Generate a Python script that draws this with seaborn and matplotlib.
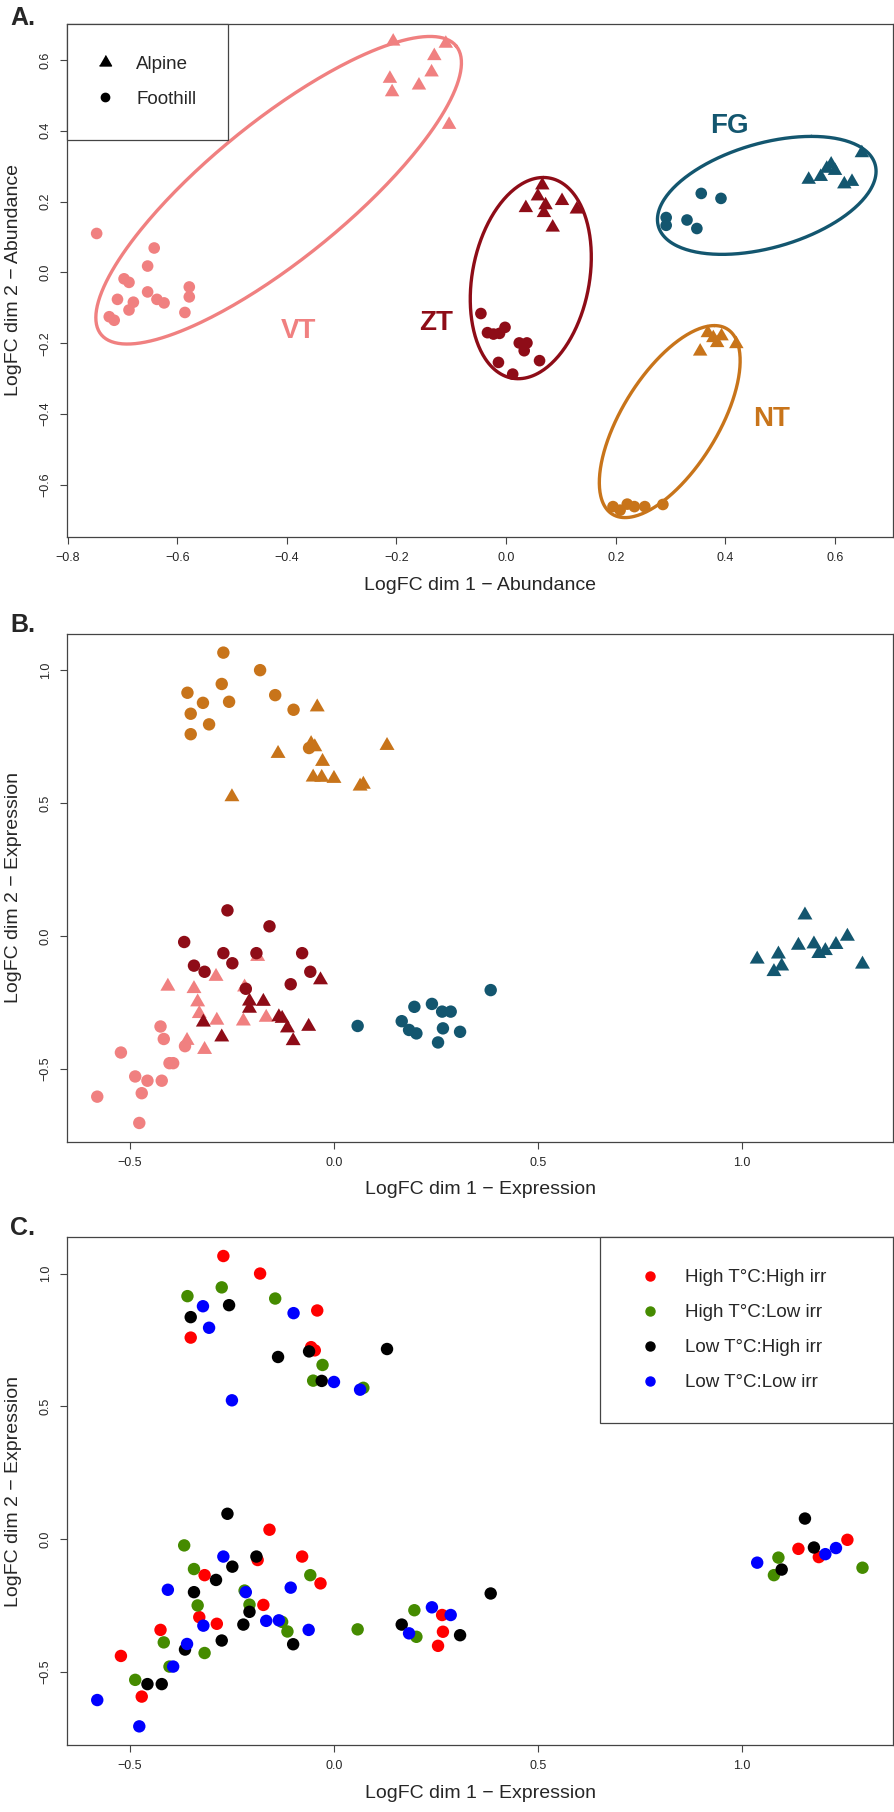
import numpy as np
import pandas as pd
import seaborn as sns
import matplotlib.pyplot as plt
from matplotlib.lines import Line2D

# ---- panel A: abundance, (dim1, dim2) per species and habitat
vt_alpine_abund = [(-0.206, 0.652), (-0.110, 0.646), (-0.131, 0.611), (-0.212, 0.547),
                   (-0.136, 0.565), (-0.159, 0.528), (-0.208, 0.509), (-0.104, 0.417)]
vt_foothill_abund = [(-0.747, 0.110), (-0.642, 0.069), (-0.654, 0.018), (-0.697, -0.018),
                     (-0.688, -0.028), (-0.654, -0.055), (-0.709, -0.076), (-0.680, -0.084),
                     (-0.637, -0.076), (-0.624, -0.086), (-0.578, -0.041), (-0.578, -0.069),
                     (-0.688, -0.106), (-0.586, -0.113), (-0.724, -0.125), (-0.715, -0.135)]
zt_alpine_abund = [(0.066, 0.246), (0.058, 0.215), (0.036, 0.182), (0.102, 0.202),
                   (0.072, 0.190), (0.069, 0.168), (0.129, 0.178), (0.085, 0.127)]
zt_foothill_abund = [(-0.046, -0.116), (-0.034, -0.170), (-0.023, -0.174), (-0.012, -0.172),
                     (-0.002, -0.155), (0.024, -0.199), (0.038, -0.199), (0.033, -0.221),
                     (-0.014, -0.254), (0.061, -0.249), (0.012, -0.287)]
fg_alpine_abund = [(0.552, 0.262), (0.574, 0.270), (0.593, 0.305), (0.600, 0.287),
                   (0.617, 0.249), (0.631, 0.256), (0.649, 0.337), (0.585, 0.293)]
fg_foothill_abund = [(0.356, 0.223), (0.392, 0.209), (0.292, 0.155), (0.292, 0.133),
                     (0.330, 0.148), (0.348, 0.124)]
nt_alpine_abund = [(0.354, -0.223), (0.368, -0.171), (0.378, -0.185), (0.385, -0.199),
                   (0.393, -0.180), (0.420, -0.202)]
nt_foothill_abund = [(0.195, -0.661), (0.208, -0.671), (0.221, -0.654), (0.234, -0.661),
                     (0.253, -0.661), (0.286, -0.655)]

# hull ellipses of panel A: centre, and two conjugate semi-diameters (data units)
hull_species = ['VT', 'ZT', 'FG', 'NT']
hull_center = [(-0.415, 0.232), (0.045, -0.016), (0.4755, 0.2175), (0.2985, -0.421)]
hull_u = [(0.324, 0.407), (0.023, 0.284), (0.0815, 0.1665), (0.0815, 0.271)]
hull_v = [(0.079, -0.151), (0.108, 0.0), (0.182, 0.0), (0.0993, 0.0)]

# ---- panels B and C: expression, (dim1, dim2, treatment)
# HH = High T°C:High irr, HL = High T°C:Low irr, LH = Low T°C:High irr, LL = Low T°C:Low irr
fg_foothill_expr = [(0.058, -0.339, 'HL'), (0.166, -0.321, 'LH'), (0.184, -0.354, 'LL'),
                    (0.197, -0.267, 'HL'), (0.202, -0.367, 'HL'), (0.240, -0.256, 'LL'),
                    (0.265, -0.285, 'HH'), (0.286, -0.285, 'LL'), (0.267, -0.348, 'HH'),
                    (0.255, -0.401, 'HH'), (0.309, -0.361, 'LH'), (0.384, -0.204, 'LH')]
fg_alpine_expr = [(1.154, 0.078, 'LH'), (1.138, -0.036, 'HH'), (1.176, -0.031, 'LH'),
                  (1.188, -0.067, 'HH'), (1.204, -0.056, 'LL'), (1.230, -0.033, 'LL'),
                  (1.258, -0.002, 'HH'), (1.037, -0.088, 'LL'), (1.089, -0.069, 'HL'),
                  (1.078, -0.135, 'HL'), (1.097, -0.114, 'LH'), (1.295, -0.107, 'HL')]
nt_foothill_expr = [(-0.271, 1.066, 'HH'), (-0.181, 1.000, 'HH'), (-0.275, 0.948, 'HL'),
                    (-0.359, 0.915, 'HL'), (-0.144, 0.906, 'HL'), (-0.321, 0.877, 'LL'),
                    (-0.257, 0.881, 'LH'), (-0.351, 0.836, 'LH'), (-0.099, 0.851, 'LL'),
                    (-0.306, 0.796, 'LL'), (-0.351, 0.759, 'HH'), (-0.061, 0.707, 'LH')]
nt_alpine_expr = [(-0.041, 0.861, 'HH'), (-0.056, 0.723, 'HH'), (-0.047, 0.711, 'HH'),
                  (-0.137, 0.686, 'LH'), (0.130, 0.716, 'LH'), (-0.028, 0.656, 'HL'),
                  (-0.051, 0.597, 'HL'), (-0.030, 0.596, 'LH'), (0.000, 0.592, 'LL'),
                  (0.064, 0.563, 'LL'), (0.072, 0.570, 'HL'), (-0.250, 0.523, 'LL')]
vt_foothill_expr = [(-0.425, -0.341, 'HH'), (-0.403, -0.479, 'HL'), (-0.394, -0.479, 'LL'),
                    (-0.487, -0.529, 'HL'), (-0.457, -0.545, 'LH'), (-0.422, -0.545, 'LH'),
                    (-0.471, -0.592, 'HH'), (-0.580, -0.605, 'LL'), (-0.477, -0.704, 'LL'),
                    (-0.522, -0.439, 'HH'), (-0.365, -0.415, 'LH'), (-0.417, -0.388, 'HL')]
vt_alpine_expr = [(-0.187, -0.078, 'HH'), (-0.289, -0.153, 'LH'), (-0.407, -0.190, 'LL'),
                  (-0.343, -0.199, 'LH'), (-0.219, -0.193, 'HL'), (-0.334, -0.249, 'HL'),
                  (-0.330, -0.293, 'HH'), (-0.287, -0.318, 'HH'), (-0.222, -0.321, 'LH'),
                  (-0.166, -0.307, 'LL'), (-0.360, -0.394, 'LL'), (-0.317, -0.428, 'HL')]
zt_foothill_expr = [(-0.261, 0.096, 'LH'), (-0.158, 0.036, 'HH'), (-0.367, -0.023, 'HL'),
                    (-0.271, -0.065, 'LL'), (-0.190, -0.065, 'LH'), (-0.078, -0.065, 'HH'),
                    (-0.343, -0.112, 'HL'), (-0.249, -0.103, 'LH'), (-0.317, -0.135, 'HH'),
                    (-0.058, -0.135, 'HL'), (-0.106, -0.182, 'LL'), (-0.216, -0.199, 'LL')]
zt_alpine_expr = [(-0.033, -0.166, 'HH'), (-0.207, -0.246, 'HL'), (-0.173, -0.247, 'HH'),
                  (-0.207, -0.273, 'LH'), (-0.320, -0.325, 'LL'), (-0.135, -0.305, 'LL'),
                  (-0.127, -0.311, 'HL'), (-0.114, -0.347, 'HL'), (-0.062, -0.341, 'LL'),
                  (-0.275, -0.381, 'LH'), (-0.100, -0.395, 'LH')]

treatment_names = {'HH': 'High T°C:High irr', 'HL': 'High T°C:Low irr',
                   'LH': 'Low T°C:High irr', 'LL': 'Low T°C:Low irr'}
treatment_order = ['HH', 'HL', 'LH', 'LL']

species_colors = {'VT': '#F08080', 'ZT': '#8E0C17', 'FG': '#13566F', 'NT': '#C8741A'}
treatment_colors = {'HH': '#FF0000', 'HL': '#458B00', 'LH': '#000000', 'LL': '#0000FF'}
TRIANGLE = [(-1, -0.577), (1, -0.577), (0, 1.155)]  # R pch 17, centred on centroid
EDGE = '#444444'


def build_abund():
    groups = [('VT', 'Alpine', vt_alpine_abund), ('VT', 'Foothill', vt_foothill_abund),
              ('ZT', 'Alpine', zt_alpine_abund), ('ZT', 'Foothill', zt_foothill_abund),
              ('FG', 'Alpine', fg_alpine_abund), ('FG', 'Foothill', fg_foothill_abund),
              ('NT', 'Alpine', nt_alpine_abund), ('NT', 'Foothill', nt_foothill_abund)]
    rows = [(x, y, sp, hab) for sp, hab, pts in groups for x, y in pts]
    return pd.DataFrame(rows, columns=['x', 'y', 'species', 'habitat'])


def build_expr():
    groups = [('FG', 'Foothill', fg_foothill_expr), ('FG', 'Alpine', fg_alpine_expr),
              ('NT', 'Foothill', nt_foothill_expr), ('NT', 'Alpine', nt_alpine_expr),
              ('VT', 'Foothill', vt_foothill_expr), ('VT', 'Alpine', vt_alpine_expr),
              ('ZT', 'Foothill', zt_foothill_expr), ('ZT', 'Alpine', zt_alpine_expr)]
    rows = [(x, y, sp, hab, t) for sp, hab, pts in groups for x, y, t in pts]
    return pd.DataFrame(rows, columns=['x', 'y', 'species', 'habitat', 'treatment'])


def ellipse_xy(center, u, v, n=300):
    t = np.linspace(0, 2 * np.pi, n)
    x = center[0] + u[0] * np.cos(t) + v[0] * np.sin(t)
    y = center[1] + u[1] * np.cos(t) + v[1] * np.sin(t)
    return x, y


def style_axes(ax, xlabel, ylabel, xticks, yticks, xlim, ylim):
    ax.set_xlim(xlim)
    ax.set_ylim(ylim)
    fmt = lambda v: f'{v:.1f}'.replace('-', '\u2212')
    ax.set_xticks(xticks, labels=[fmt(v) for v in xticks])
    ax.set_yticks(yticks, labels=[fmt(v) for v in yticks])
    ax.tick_params(direction='out', length=5, width=0.8, color=EDGE, labelsize=9, pad=6)
    plt.setp(ax.get_yticklabels(), rotation=90, va='center')
    ax.set_xlabel(xlabel, fontsize=14, labelpad=9)
    ax.set_ylabel(ylabel, fontsize=14, labelpad=13)
    for sp in ax.spines.values():
        sp.set_visible(True)
        sp.set_color(EDGE)
        sp.set_linewidth(0.9)


sns.set_style('ticks')
plt.rcParams['font.family'] = ['Liberation Sans', 'DejaVu Sans']

fig = plt.figure(figsize=(8.94, 18.12), dpi=100)
ax_a = fig.add_axes([0.075, 0.7036, 0.924, 0.2833])
ax_b = fig.add_axes([0.075, 0.3700, 0.924, 0.2801])
ax_c = fig.add_axes([0.075, 0.0370, 0.924, 0.2801])

abund = build_abund()
expr = build_expr()

# ---- A
for sp, c, u, v in zip(hull_species, hull_center, hull_u, hull_v):
    ex, ey = ellipse_xy(c, u, v)
    ax_a.plot(ex, ey, color=species_colors[sp], lw=2.4, zorder=1)
sns.scatterplot(data=abund, x='x', y='y', hue='species', palette=species_colors,
                style='habitat', markers={'Alpine': TRIANGLE, 'Foothill': 'o'},
                size='habitat', sizes={'Alpine': 145, 'Foothill': 70},
                linewidth=0, legend=False, ax=ax_a, zorder=2)
label_pos = {'VT': (-0.379, -0.166), 'ZT': (-0.128, -0.144), 'FG': (0.408, 0.413), 'NT': (0.484, -0.414)}
for sp, (lx, ly) in label_pos.items():
    ax_a.text(lx, ly, sp, color=species_colors[sp], fontsize=20, fontweight='bold',
              ha='center', va='center')
style_axes(ax_a, 'LogFC dim 1 \u2212 Abundance', 'LogFC dim 2 \u2212 Abundance',
           [-0.8, -0.6, -0.4, -0.2, 0.0, 0.2, 0.4, 0.6], [-0.6, -0.4, -0.2, 0.0, 0.2, 0.4, 0.6],
           (-0.801, 0.706), (-0.747, 0.702))
hab_handles = [Line2D([], [], marker=TRIANGLE, color='black', ls='none', markersize=10, label='Alpine'),
               Line2D([], [], marker='o', color='black', ls='none', markersize=6, label='Foothill')]
leg = ax_a.legend(handles=hab_handles, loc='upper left', borderaxespad=0, fancybox=False,
                  framealpha=1, edgecolor=EDGE, fontsize=13.5, borderpad=1.7,
                  labelspacing=0.95, handlelength=0.6, handletextpad=1.4)
leg.get_frame().set_linewidth(0.9)

# ---- B
sns.scatterplot(data=expr, x='x', y='y', hue='species', palette=species_colors,
                style='habitat', markers={'Alpine': TRIANGLE, 'Foothill': 'o'},
                size='habitat', sizes={'Alpine': 155, 'Foothill': 80},
                linewidth=0, legend=False, ax=ax_b)
style_axes(ax_b, 'LogFC dim 1 \u2212 Expression', 'LogFC dim 2 \u2212 Expression',
           [-0.5, 0.0, 0.5, 1.0], [-0.5, 0.0, 0.5, 1.0], (-0.654, 1.370), (-0.774, 1.136))

# ---- C
expr_c = expr.assign(order=expr['treatment'].map(treatment_order.index)).sort_values('order', kind='stable')
sns.scatterplot(data=expr_c, x='x', y='y', hue='treatment', palette=treatment_colors,
                s=80, linewidth=0, legend=False, ax=ax_c)
style_axes(ax_c, 'LogFC dim 1 \u2212 Expression', 'LogFC dim 2 \u2212 Expression',
           [-0.5, 0.0, 0.5, 1.0], [-0.5, 0.0, 0.5, 1.0], (-0.654, 1.370), (-0.774, 1.136))
trt_handles = [Line2D([], [], marker='o', color=treatment_colors[t], ls='none', markersize=6.5,
                      label=treatment_names[t]) for t in treatment_order]
leg = ax_c.legend(handles=trt_handles, loc='upper left', bbox_to_anchor=(0.645, 0, 0.355, 1),
                  mode='expand', borderaxespad=0, fancybox=False, framealpha=1, edgecolor=EDGE,
                  fontsize=13.5, borderpad=1.7, labelspacing=0.95, handlelength=2.0,
                  handletextpad=0.85)
leg.get_frame().set_linewidth(0.9)

for lab, ybase in [('A.', 25), ('B.', 632), ('C.', 1235)]:
    fig.text(10 / 894, 1 - ybase / 1812, lab, fontsize=18, fontweight='bold', va='baseline')

fig.savefig('out.png', dpi=100)
